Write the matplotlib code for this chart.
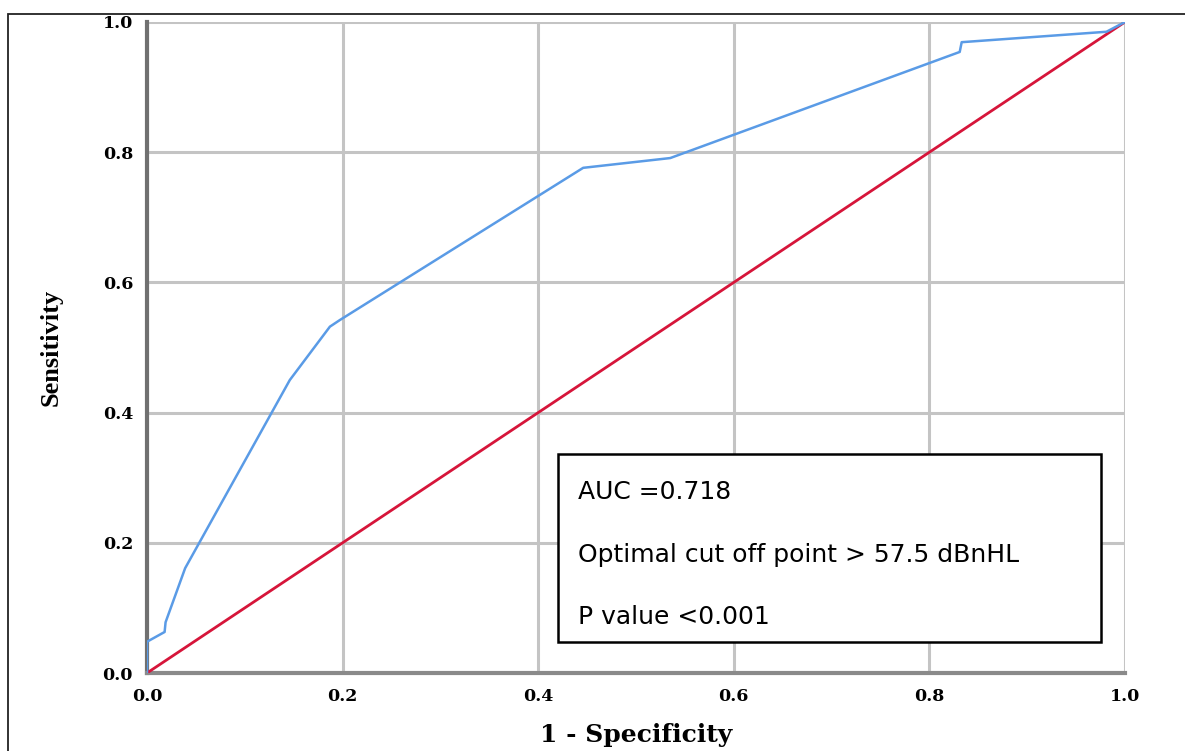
import matplotlib.pyplot as plt
from matplotlib.patches import Rectangle

# ROC curve points
fpr = [0.0, 0.0, 0.018, 0.019, 0.039, 0.146, 0.187, 0.197, 0.446, 0.535, 0.831, 0.833, 0.981, 1.0]
tpr = [0.0, 0.048, 0.063, 0.078, 0.161, 0.450, 0.532, 0.542, 0.776, 0.791, 0.954, 0.969, 0.985, 1.0]
ref = [0.0, 1.0]
ticks = [0.0, 0.2, 0.4, 0.6, 0.8, 1.0]
box_lines = ["AUC =0.718", "Optimal cut off point > 57.5 dBnHL", "P value <0.001"]

W, H = 1185, 751
fig = plt.figure(figsize=(W / 100, H / 100), dpi=100)
ax = fig.add_axes([147 / W, 1 - 673 / H, (1125 - 147) / W, (673 - 22) / H])

ax.plot(ref, ref, color="#d6153a", lw=2.0, zorder=3)
ax.plot(fpr, tpr, color="#5a9be6", lw=1.8, zorder=4)

ax.set_xlim(0, 1)
ax.set_ylim(0, 1)
ax.set_xticks(ticks)
ax.set_yticks(ticks)
ax.set_xticklabels([f"{t:.1f}" for t in ticks])
ax.set_yticklabels([f"{t:.1f}" for t in ticks])
ax.grid(True, color="#c4c4c4", lw=2.2)
ax.set_axisbelow(True)
ax.tick_params(length=0, pad=10)
for lab in ax.get_xticklabels() + ax.get_yticklabels():
    lab.set_fontfamily("DejaVu Serif")
    lab.set_fontweight("bold")
    lab.set_fontsize(12.5)
ax.tick_params(axis="x", pad=11)

for s in ["top", "right"]:
    ax.spines[s].set_visible(False)
ax.spines["left"].set_color("#707070")
ax.spines["left"].set_linewidth(3)
ax.spines["bottom"].set_color("#8a8a8a")
ax.spines["bottom"].set_linewidth(3)

ax.set_xlabel("1 - Specificity", fontfamily="DejaVu Serif", fontweight="bold",
              fontsize=18, labelpad=13)
ax.set_ylabel("Sensitivity", fontfamily="Liberation Serif", fontweight="bold",
              fontsize=19, labelpad=29)

# annotation box
ax.add_patch(Rectangle((0.42, 0.047), 0.555, 0.29, transform=ax.transAxes,
                       fill=True, facecolor="white", edgecolor="black", lw=1.8, zorder=5))
for i, t in enumerate(box_lines):
    ax.text(0.441, 0.278 - i * 0.096, t, transform=ax.transAxes, fontsize=18,
            fontfamily="DejaVu Sans", va="center", ha="left", zorder=6)

# outer frame
fig.patches.append(Rectangle((8 / W, -0.01), 1.1, 1 - 14 / H + 0.01, transform=fig.transFigure,
                             fill=False, edgecolor="#222222", lw=1.3))

fig.savefig("out.png", dpi=100)
